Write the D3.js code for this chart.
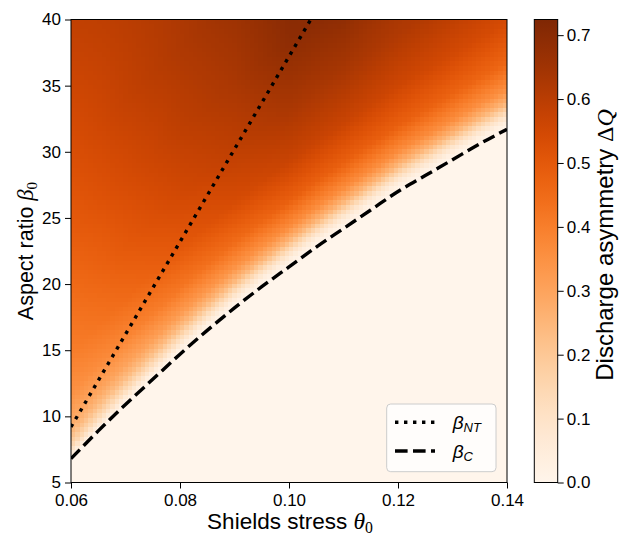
<!DOCTYPE html>
<html><head><meta charset="utf-8">
<script src="https://cdn.jsdelivr.net/npm/d3@7"></script>
<style>body{margin:0;background:#fff} text{font-family:"Liberation Sans",Arial,sans-serif}</style>
</head><body><svg id="c" width="620" height="536"></svg>
<script>
// ---------- data ----------
const xTicks = [0.06, 0.08, 0.10, 0.12, 0.14];
const yTicks = [5, 10, 15, 20, 25, 30, 35, 40];
const cTicks = [0, 0.1, 0.2, 0.3, 0.4, 0.5, 0.6, 0.7];
const vmax = 0.7245;

// critical aspect ratio beta_C (dashed)
const thetaC = [0.06,0.065,0.07,0.075,0.08,0.085,0.09,0.095,0.10,0.105,0.11,0.115,0.12,0.125,0.13,0.135,0.14];
const betaC  = [6.8, 8.9, 10.9, 12.8, 14.7, 16.5, 18.2, 19.8, 21.3, 22.8, 24.2, 25.6, 27.0, 28.2, 29.4, 30.6, 31.7];

// beta_NT (dotted)
const thetaNT = [0.06, 0.07, 0.08, 0.09, 0.10, 0.11];
const betaNT  = [9.2, 16.2, 23.2, 30.2, 37.2, 44.2];

// discharge asymmetry: columns = theta, rows = height above beta_C
const thetaGrid = [0.06, 0.07, 0.08, 0.09, 0.10, 0.11, 0.12, 0.13, 0.14];
const aboveC    = [0, 0.5, 1, 2, 3, 5, 8, 12, 17, 23, 30, 34];
const dQ = [
  [0.00,0.00,0.00,0.00,0.00,0.00,0.00,0.00,0.00],
  [0.08,0.05,0.03,0.03,0.03,0.03,0.03,0.03,0.03],
  [0.15,0.12,0.10,0.09,0.09,0.09,0.09,0.09,0.09],
  [0.24,0.23,0.23,0.24,0.25,0.25,0.25,0.25,0.25],
  [0.29,0.30,0.32,0.34,0.36,0.36,0.36,0.36,0.35],
  [0.35,0.38,0.42,0.45,0.48,0.48,0.48,0.47,0.46],
  [0.40,0.45,0.50,0.54,0.57,0.57,0.56,0.55,0.54],
  [0.44,0.50,0.55,0.59,0.63,0.635,0.62,0.61,0.60],
  [0.49,0.54,0.59,0.63,0.69,0.70,0.66,0.64,0.62],
  [0.53,0.58,0.62,0.66,0.715,0.71,0.68,0.66,0.64],
  [0.57,0.60,0.63,0.67,0.72,0.71,0.69,0.67,0.65],
  [0.59,0.61,0.64,0.68,0.72,0.71,0.69,0.67,0.65]
];

// ---------- layout ----------
const P = {left:71, right:507, top:19.5, bottom:482.5};
const CB = {left:534.3, right:557.7};
const x = d3.scaleLinear().domain([0.06,0.14]).range([P.left,P.right]);
const y = d3.scaleLinear().domain([5,40]).range([P.bottom,P.top]);
const color = d3.scaleSequential(d3.interpolateOranges).domain([0,vmax]);
const svg = d3.select("#c");
const defs = svg.append("defs");
defs.append("clipPath").attr("id","clip").append("rect")
  .attr("x",P.left).attr("y",P.top).attr("width",P.right-P.left).attr("height",P.bottom-P.top);

// ---------- heatmap ----------
const critical = d3.scaleLinear().domain(thetaC).range(betaC).clamp(true);
const profiles = thetaGrid.map((t,j)=>d3.scaleLinear().domain(aboveC).range(dQ.map(r=>r[j])).clamp(true));
function value(t,b){
  const d = b - critical(t);
  if (d <= 0) return 0;
  return d3.scaleLinear().domain(thetaGrid).range(profiles.map(p=>p(d))).clamp(true)(t);
}
const nx = 100, ny = 100;
const tEdges = d3.range(nx+1).map(i=>x.invert(P.left + i*(P.right-P.left)/nx));
const bEdges = d3.range(ny+1).map(i=>y.invert(P.bottom - i*(P.bottom-P.top)/ny));
const cells = [];
for (let i=0;i<nx;i++) for (let j=0;j<ny;j++){
  const tc=(tEdges[i]+tEdges[i+1])/2, bc=(bEdges[j]+bEdges[j+1])/2;
  cells.push({t0:tEdges[i],t1:tEdges[i+1],b0:bEdges[j],b1:bEdges[j+1],v:value(tc,bc)});
}
svg.append("g").attr("shape-rendering","crispEdges").selectAll("rect").data(cells).join("rect")
  .attr("x",d=>x(d.t0)).attr("y",d=>y(d.b1))
  .attr("width",d=>x(d.t1)-x(d.t0)+0.3).attr("height",d=>y(d.b0)-y(d.b1)+0.3)
  .attr("fill",d=>color(d.v));

// ---------- lines ----------
const gl = svg.append("g").attr("clip-path","url(#clip)");
gl.append("path").datum(thetaNT.map((t,i)=>[t,betaNT[i]]))
  .attr("d",d3.line().x(d=>x(d[0])).y(d=>y(d[1])))
  .attr("fill","none").attr("stroke","#000").attr("stroke-width",3.4).attr("stroke-dasharray","3.4,5.6");
gl.append("path").datum(thetaC.map((t,i)=>[t,betaC[i]]))
  .attr("d",d3.line().curve(d3.curveMonotoneX).x(d=>x(d[0])).y(d=>y(d[1])))
  .attr("fill","none").attr("stroke","#000").attr("stroke-width",3.4).attr("stroke-dasharray","12.6,5.4");

// ---------- frame & axes ----------
svg.append("rect").attr("x",P.left).attr("y",P.top).attr("width",P.right-P.left).attr("height",P.bottom-P.top)
  .attr("fill","none").attr("stroke","#000").attr("stroke-width",1);
function styleAxis(g){
  g.select(".domain").remove();
  g.selectAll(".tick line").attr("stroke","#000").attr("stroke-width",1);
  g.selectAll(".tick text").attr("font-size",17).attr("fill","#000").attr("font-family","Liberation Sans, Arial, sans-serif");
}
svg.append("g").attr("transform",`translate(0,${P.bottom})`)
  .call(d3.axisBottom(x).tickValues(xTicks).tickFormat(d3.format(".2f")).tickSize(6).tickPadding(5))
  .call(styleAxis);
svg.append("g").attr("transform",`translate(${P.left},0)`)
  .call(d3.axisLeft(y).tickValues(yTicks).tickFormat(d3.format("d")).tickSize(6).tickPadding(4))
  .call(styleAxis);

// ---------- colorbar ----------
const cy = d3.scaleLinear().domain([0,vmax]).range([P.bottom,P.top]);
const grad = defs.append("linearGradient").attr("id","cg").attr("x1",0).attr("y1",1).attr("x2",0).attr("y2",0);
d3.range(0,1.0001,0.05).forEach(f=>grad.append("stop").attr("offset",f).attr("stop-color",color(f*vmax)));
svg.append("rect").attr("x",CB.left).attr("y",P.top).attr("width",CB.right-CB.left).attr("height",P.bottom-P.top)
  .attr("fill","url(#cg)").attr("stroke","#000").attr("stroke-width",1);
svg.append("g").attr("transform",`translate(${CB.right},0)`)
  .call(d3.axisRight(cy).tickValues(cTicks).tickFormat(d3.format(".1f")).tickSize(6).tickPadding(3))
  .call(styleAxis);

// ---------- labels ----------
const serif = "Liberation Serif, DejaVu Serif, serif";
function mathLabel(sel, plain, sym, sub, size){
  const t = sel.append("text").attr("font-size",size).attr("fill","#000").attr("text-anchor","middle");
  t.append("tspan").text(plain);
  t.append("tspan").attr("font-family",serif).attr("font-style","italic").attr("font-size",size*1.05).text(sym);
  if (sub) t.append("tspan").attr("font-family",serif).attr("font-size",size*0.7).attr("dy",size*0.18).text(sub);
  return t;
}
mathLabel(svg.append("g").attr("transform","translate(290,529)"),"Shields stress ","θ","0",22.5);
mathLabel(svg.append("g").attr("transform","translate(33,251) rotate(-90)"),"Aspect ratio ","β","0",21.5);
{
  const t = svg.append("g").attr("transform","translate(613,245) rotate(-90)")
    .append("text").attr("font-size",24).attr("text-anchor","middle").attr("fill","#000");
  t.append("tspan").text("Discharge asymmetry ");
  t.append("tspan").attr("font-family",serif).text("Δ");
  t.append("tspan").attr("font-family",serif).attr("font-style","italic").text("Q");
}

// ---------- legend ----------
const lg = svg.append("g");
lg.append("rect").attr("x",386.7).attr("y",404).attr("width",109.3).attr("height",67.7).attr("rx",4)
  .attr("fill","#fff").attr("fill-opacity",0.8).attr("stroke","#cccccc").attr("stroke-width",1);
const legendItems = [
  {sub:"NT", dash:"3.4,5.6", yy:422.3},
  {sub:"C",  dash:"12.6,5.4", yy:451}
];
legendItems.forEach(it=>{
  lg.append("line").attr("x1",395).attr("x2",435).attr("y1",it.yy).attr("y2",it.yy)
    .attr("stroke","#000").attr("stroke-width",3.4).attr("stroke-dasharray",it.dash);
  const t = lg.append("text").attr("x",452.7).attr("y",it.yy+6.5).attr("font-size",19).attr("fill","#000")
    .attr("font-family",serif).attr("font-style","italic");
  t.append("tspan").text("β");
  t.append("tspan").attr("font-size",13).attr("dy",3.5).text(it.sub);
});
</script></body></html>
